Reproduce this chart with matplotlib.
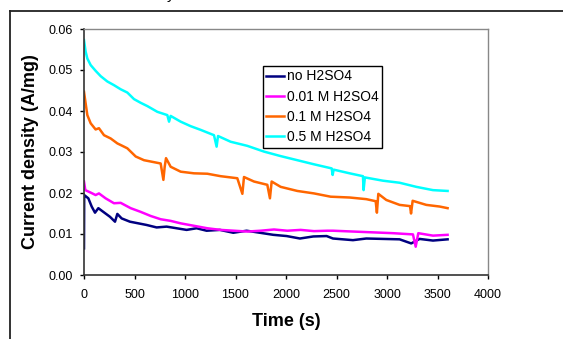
import matplotlib
matplotlib.use('Agg')
import matplotlib.pyplot as plt
from matplotlib.lines import Line2D

plt.rcParams['font.family'] = ['Liberation Sans', 'DejaVu Sans']

# ------------ dados ------------------------------- #
t_no = [0, 2, 43, 76, 109, 142, 191, 257, 307, 330, 373, 455, 538, 620, 719, 818, 917,
        1016, 1115, 1214, 1346, 1478, 1610, 1742, 1874, 2006, 2138, 2270, 2402, 2465,
        2663, 2795, 2960, 3125, 3240, 3323, 3455, 3600]
i_no = [0.0065, 0.0195, 0.0187, 0.0167, 0.0152, 0.0163, 0.0154, 0.0142, 0.0130, 0.0149,
        0.0138, 0.0130, 0.0126, 0.0122, 0.0116, 0.0118, 0.0114, 0.0110, 0.0114, 0.0108,
        0.0110, 0.0103, 0.0108, 0.0103, 0.0098, 0.0095, 0.0089, 0.0094, 0.0095, 0.0089,
        0.0085, 0.0089, 0.0088, 0.0087, 0.0077, 0.0088, 0.0084, 0.0087]

t_001 = [0, 13, 66, 115, 148, 214, 297, 363, 462, 561, 660, 759, 858, 957, 1089, 1221,
         1353, 1485, 1617, 1749, 1881, 2013, 2145, 2277, 2409, 2465, 2663, 2861, 3059,
         3257, 3284, 3310, 3455, 3600]
i_001 = [0.0228, 0.0207, 0.0201, 0.0195, 0.0199, 0.0187, 0.0175, 0.0176, 0.0163, 0.0154,
         0.0144, 0.0136, 0.0132, 0.0126, 0.0120, 0.0114, 0.0110, 0.0108, 0.0106, 0.0108,
         0.0111, 0.0108, 0.0110, 0.0107, 0.0108, 0.0108, 0.0106, 0.0104, 0.0102, 0.0099,
         0.0069, 0.0102, 0.0096, 0.0098]

t_01 = [0, 16, 33, 66, 115, 148, 198, 264, 330, 380, 429, 512, 594, 677, 759, 786, 799,
        812, 858, 957, 1089, 1221, 1353, 1518, 1568, 1584, 1683, 1815, 1841, 1858, 1947,
        2112, 2277, 2442, 2630, 2795, 2888, 2900, 2914, 2993, 3125, 3228, 3238, 3254,
        3389, 3521, 3600]
i_01 = [0.0447, 0.0419, 0.0390, 0.0370, 0.0355, 0.0358, 0.0341, 0.0333, 0.0321, 0.0315,
        0.0309, 0.0289, 0.0280, 0.0276, 0.0272, 0.0232, 0.0264, 0.0285, 0.0264, 0.0252,
        0.0248, 0.0247, 0.0241, 0.0236, 0.0198, 0.0239, 0.0228, 0.0220, 0.0187, 0.0228,
        0.0215, 0.0205, 0.0199, 0.0191, 0.0189, 0.0185, 0.0180, 0.0152, 0.0198, 0.0183,
        0.0171, 0.0168, 0.0150, 0.0181, 0.0171, 0.0167, 0.0163]

t_05 = [0, 16, 33, 66, 115, 165, 231, 297, 363, 429, 495, 561, 627, 726, 825, 842, 858,
        957, 1056, 1155, 1287, 1313, 1327, 1452, 1617, 1782, 1947, 2112, 2277, 2452,
        2462, 2472, 2630, 2762, 2768, 2781, 2960, 3125, 3290, 3455, 3600]
i_05 = [0.0573, 0.0545, 0.0528, 0.0512, 0.0498, 0.0485, 0.0472, 0.0463, 0.0453, 0.0445,
        0.0429, 0.0420, 0.0412, 0.0398, 0.0390, 0.0374, 0.0388, 0.0374, 0.0363, 0.0354,
        0.0341, 0.0313, 0.0339, 0.0325, 0.0315, 0.0301, 0.0290, 0.0280, 0.0270, 0.0260,
        0.0244, 0.0257, 0.0248, 0.0241, 0.0207, 0.0238, 0.0230, 0.0225, 0.0215, 0.0207,
        0.0205]

labels = ['no H2SO4', '0.01 M H2SO4', '0.1 M H2SO4', '0.5 M H2SO4']
cores = ['#000080', '#FF00FF', '#FF6600', '#00FFFF']

x_ticks = [0, 500, 1000, 1500, 2000, 2500, 3000, 3500, 4000]
y_ticks = [0.00, 0.01, 0.02, 0.03, 0.04, 0.05, 0.06]

# ---------- grafico ----------- #
fig = plt.figure(figsize=(5.63, 3.39), dpi=100)
ax = fig.add_axes([84 / 563, 1 - 275 / 339, 404 / 563, 246 / 339])

series = [(t_no, i_no), (t_001, i_001), (t_01, i_01), (t_05, i_05)]
for (t, i), lab, c in zip(series, labels, cores):
    ax.plot(t, i, color=c, linewidth=1.8, label=lab)

ax.set_xlim(0, 4000)
ax.set_ylim(0, 0.06)
ax.set_xticks(x_ticks)
ax.set_yticks(y_ticks)
ax.set_yticklabels(['%.2f' % v for v in y_ticks])
ax.tick_params(axis='x', direction='out', length=3, width=1, pad=7, labelsize=9)
ax.tick_params(axis='y', direction='out', length=3, width=1, pad=5, labelsize=9)

for s in ['left', 'bottom']:
    ax.spines[s].set_color('#333333')
    ax.spines[s].set_linewidth(1.2)
for s in ['top', 'right']:
    ax.spines[s].set_color('#888888')
    ax.spines[s].set_linewidth(1.0)

ax.set_xlabel('Time (s)', fontsize=13, fontweight='bold')
ax.set_ylabel('Current density (A/mg)', fontsize=13, fontweight='bold')
ax.xaxis.set_label_coords(0.5, -0.155)
ax.yaxis.set_label_coords(-0.112, 0.5)

leg = ax.legend(loc='upper left', bbox_to_anchor=(0.443, 0.850), borderaxespad=0,
                fontsize=10, frameon=True, fancybox=False, edgecolor='black',
                framealpha=1, handlelength=1.3, handletextpad=0.15,
                labelspacing=0.45, borderpad=0.25)
leg.get_frame().set_linewidth(1.0)

# moldura da figura (so esquerda e topo)
fig.add_artist(Line2D([9.5 / 563, 9.5 / 563], [0, 1 - 10.5 / 339], transform=fig.transFigure,
                      color='#222222', linewidth=1.3))
fig.add_artist(Line2D([9.5 / 563, 1], [1 - 10.5 / 339, 1 - 10.5 / 339], transform=fig.transFigure,
                      color='#222222', linewidth=1.3))
# pedaco do texto cortado no topo
fig.text(171 / 563, 1 + 1.5 / 339, 'y', fontsize=11, va='baseline', ha='center')

fig.savefig('out.png', dpi=100)
